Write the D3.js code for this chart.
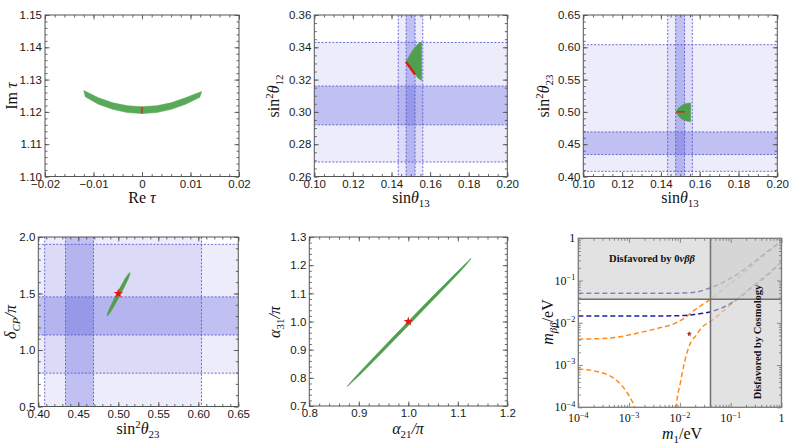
<!DOCTYPE html>
<html>
<head>
<meta charset="utf-8">
<script src="https://cdn.jsdelivr.net/npm/d3@7"></script>
<style>
  body { margin: 0; background: #fff; }
</style>
</head>
<body>
<script>
// ---- data ----

// panel 1 : Re tau / Im tau
const reTauTicks = [-0.02, -0.01, 0, 0.01, 0.02];
const reTauLabels = ["\u22120.02", "\u22120.01", "0", "0.01", "0.02"];
const imTauTicks = [1.10, 1.11, 1.12, 1.13, 1.14, 1.15];
const imTauLabels = ["1.10", "1.11", "1.12", "1.13", "1.14", "1.15"];
const tauUpperEdge = [[-0.0120, 1.1266], [-0.009, 1.1244], [-0.006, 1.1228], [-0.003, 1.1219], [0, 1.1216],
                      [0.003, 1.1219], [0.006, 1.1228], [0.009, 1.1244], [0.0123, 1.1263]];
const tauLowerEdge = [[0.0119, 1.1245], [0.009, 1.1224], [0.006, 1.1208], [0.003, 1.1198], [0, 1.1195],
                      [-0.003, 1.1198], [-0.006, 1.1208], [-0.009, 1.1224], [-0.0117, 1.1247]];
const tauBest = [[0, 1.1194], [0, 1.1216]];

// mixing angle ticks
const s13Ticks = [0.10, 0.12, 0.14, 0.16, 0.18, 0.20];
const s13Labels = ["0.10", "0.12", "0.14", "0.16", "0.18", "0.20"];
const s12Ticks = [0.26, 0.28, 0.30, 0.32, 0.34, 0.36];
const s12Labels = ["0.26", "0.28", "0.30", "0.32", "0.34", "0.36"];
const s23Ticks = [0.40, 0.45, 0.50, 0.55, 0.60, 0.65];
const s23Labels = ["0.40", "0.45", "0.50", "0.55", "0.60", "0.65"];
const dcpTicks = [0.5, 1.0, 1.5, 2.0];
const dcpLabels = ["0.5", "1.0", "1.5", "2.0"];
const a21Ticks = [0.8, 0.9, 1.0, 1.1, 1.2];
const a21Labels = ["0.8", "0.9", "1.0", "1.1", "1.2"];
const a31Ticks = [0.7, 0.8, 0.9, 1.0, 1.1, 1.2, 1.3];
const a31Labels = ["0.7", "0.8", "0.9", "1.0", "1.1", "1.2", "1.3"];

// 1 sigma / 3 sigma ranges
const s13Band1 = [0.1476, 0.1522], s13Band3 = [0.1435, 0.1562];
const s12Band1 = [0.292, 0.316],   s12Band3 = [0.269, 0.343];
const s23Band1 = [0.434, 0.469],   s23Band3 = [0.408, 0.604];
const dcpBand1 = [1.133, 1.470],   dcpBand3 = [0.795, 1.935];

// allowed regions
const s12Region = [[0.1475, 0.3310], [0.1495, 0.3352], [0.1515, 0.3390], [0.1535, 0.3418], [0.1556, 0.3434],
                   [0.1556, 0.3195], [0.1540, 0.3207], [0.1522, 0.3232], [0.1500, 0.3270]];
const s12Best = [[0.1475, 0.3310], [0.1522, 0.3232]];
const s23Region = [[0.1478, 0.4997], [0.1490, 0.5055], [0.1505, 0.5095], [0.1520, 0.5120], [0.1537, 0.5133],
                   [0.1553, 0.5136], [0.1553, 0.4852], [0.1537, 0.4856], [0.1520, 0.4870], [0.1505, 0.4895],
                   [0.1490, 0.4937]];
const s23Best = [[0.1478, 0.5], [0.1524, 0.5]];
const dcpRegion = [[0.4860, 1.300], [0.4874, 1.340], [0.4912, 1.400], [0.4983, 1.500], [0.5060, 1.600],
                   [0.5103, 1.650], [0.5146, 1.686], [0.5135, 1.650], [0.5104, 1.600], [0.5033, 1.500],
                   [0.4956, 1.400], [0.4906, 1.340]];
const dcpBest = [0.5, 1.5];
const alphaRegion = [[0.8768, 0.770], [0.8914, 0.800], [0.9449, 0.900], [0.9997, 1.000], [1.0553, 1.100],
                     [1.1125, 1.200], [1.1267, 1.2233], [1.1161, 1.200], [1.0629, 1.100], [1.0081, 1.000],
                     [0.9525, 0.900], [0.8958, 0.800]];
const alphaBest = [1.0, 1.0];

// panel 6 : effective Majorana mass
const logTicks = [1e-4, 1e-3, 1e-2, 1e-1, 1];
const logLabels = [["10", "\u22124"], ["10", "\u22123"], ["10", "\u22122"], ["10", "\u22121"], ["1", ""]];
const noUpper = [[1e-4, 0.0041], [3.9e-4, 0.0043], [8.2e-4, 0.0049], [1.75e-3, 0.0060], [3.7e-3, 0.0074],
                 [7.9e-3, 0.0097], [0.0124, 0.0130], [0.0193, 0.0200], [0.038, 0.0347], [0.075, 0.0656],
                 [0.16, 0.135], [0.39, 0.336], [1.0, 0.85]];
const noLowerLeft = [[1e-4, 8.05e-4], [2.12e-4, 7.2e-4], [3.87e-4, 5.8e-4], [6.08e-4, 4.04e-4],
                     [8.87e-4, 2.34e-4], [1.11e-3, 1.49e-4], [1.29e-3, 9.5e-5], [1.36e-3, 6e-5]];
const noLowerRight = [[8.3e-3, 6e-5], [8.5e-3, 1.0e-4], [0.0103, 4.0e-4], [0.0124, 1.2e-3], [0.0155, 3.0e-3],
                      [0.021, 5.1e-3], [0.026, 7.4e-3], [0.041, 0.011], [0.128, 0.0347], [1.0, 0.28]];
const ioUpper = [[1e-4, 0.0499], [1e-3, 0.0499], [7.9e-3, 0.0500], [0.0193, 0.0527], [0.038, 0.066],
                 [0.075, 0.094], [0.16, 0.162], [0.39, 0.367], [1.0, 0.87]];
const ioLower = [[1e-4, 0.0145], [1e-3, 0.0145], [7.9e-3, 0.0146], [0.0193, 0.0158], [0.041, 0.0183],
                 [0.075, 0.024], [0.128, 0.0347], [0.25, 0.066], [0.53, 0.135], [1.0, 0.28]];
const mbbLimit = 0.036;
const m1Limit = 0.040;
const mbbPoint = [0.0153, 0.0054];

// ---- drawing ----
const width = 789, height = 446;
const serif = "'Liberation Serif','Times New Roman',serif";
const sans = "'Liberation Sans',Arial,sans-serif";
const green = "#4f9f4f";
const bandFill = "#5050dc";
const bandLine = "#5c5cd0";

const svg = d3.select("body").append("svg")
  .attr("width", width).attr("height", height);

function minorTicks(domain, step) {
  const n = Math.round((domain[1] - domain[0]) / step);
  return d3.range(n + 1).map(i => +(domain[0] + i * step).toFixed(6));
}

// text with sub/superscripts, parts = [[text, "flags"], ...], flags: it bold sup sub
function richText(parent, x, y, parts, size, anchor, family) {
  const t = parent.append("text")
    .attr("x", x).attr("y", y)
    .attr("font-family", family || serif)
    .attr("font-size", size)
    .attr("text-anchor", anchor || "middle")
    .attr("fill", "#111");
  let shift = 0;
  parts.forEach(([s, st]) => {
    const f = st.split(" ");
    const sp = t.append("tspan").text(s);
    let target = 0;
    if (f.includes("sup")) { target = -0.4 * size; sp.attr("font-size", size * 0.68); }
    if (f.includes("sub")) { target = 0.28 * size; sp.attr("font-size", size * 0.68); }
    if (f.includes("it")) sp.attr("font-style", "italic");
    if (f.includes("bold")) sp.attr("font-weight", "bold");
    sp.attr("dy", target - shift);
    shift = target;
  });
  return t;
}

function yLabel(x, y, parts) {
  const g = svg.append("g").attr("transform", `translate(${x},${y}) rotate(-90)`);
  richText(g, 0, 0, parts, 16);
}

function makePanel(box, xs, ys, id) {
  const x = xs.range([box.l, box.r]);
  const y = ys.range([box.b, box.t]);
  svg.append("clipPath").attr("id", id).append("rect")
    .attr("x", box.l).attr("y", box.t).attr("width", box.r - box.l).attr("height", box.b - box.t);
  const plot = svg.append("g").attr("clip-path", `url(#${id})`);
  return { box, x, y, plot };
}

function frame(p, xMajor, xMinor, xLabels, yMajor, yMinor, yLabels, color, wid, longT, shortT) {
  const { box, x, y } = p;
  const g = svg.append("g");
  const add = (axis, tr) => {
    const a = g.append("g").attr("transform", tr).call(axis);
    a.select(".domain").remove();
    a.selectAll("line").attr("stroke", color).attr("stroke-width", 0.9);
    a.attr("font-family", sans).attr("font-size", 11.5);
    a.selectAll("text").attr("fill", "#1a1a1a");
    return a;
  };
  const none = () => "";
  const lab = labels => labels ? (d, i) => labels[i] : none;
  add(d3.axisBottom(x).tickValues(xMinor).tickSize(-shortT).tickFormat(none), `translate(0,${box.b})`);
  add(d3.axisTop(x).tickValues(xMinor).tickSize(-shortT).tickFormat(none), `translate(0,${box.t})`);
  add(d3.axisLeft(y).tickValues(yMinor).tickSize(-shortT).tickFormat(none), `translate(${box.l},0)`);
  add(d3.axisRight(y).tickValues(yMinor).tickSize(-shortT).tickFormat(none), `translate(${box.r},0)`);
  add(d3.axisBottom(x).tickValues(xMajor).tickSize(-longT).tickPadding(3).tickFormat(lab(xLabels)), `translate(0,${box.b})`);
  add(d3.axisTop(x).tickValues(xMajor).tickSize(-longT).tickFormat(none), `translate(0,${box.t})`);
  add(d3.axisLeft(y).tickValues(yMajor).tickSize(-longT).tickPadding(3).tickFormat(lab(yLabels)), `translate(${box.l},0)`);
  add(d3.axisRight(y).tickValues(yMajor).tickSize(-longT).tickFormat(none), `translate(${box.r},0)`);
  g.append("rect")
    .attr("x", box.l).attr("y", box.t).attr("width", box.r - box.l).attr("height", box.b - box.t)
    .attr("fill", "none").attr("stroke", color).attr("stroke-width", wid);
}

function bands(p, v1, v3, h1, h3) {
  const { box, x, y, plot } = p;
  const vRect = (b, op) => plot.append("rect")
    .attr("x", x(b[0])).attr("width", x(b[1]) - x(b[0]))
    .attr("y", box.t).attr("height", box.b - box.t)
    .attr("fill", bandFill).attr("fill-opacity", op);
  const hRect = (b, op) => plot.append("rect")
    .attr("y", y(b[1])).attr("height", y(b[0]) - y(b[1]))
    .attr("x", box.l).attr("width", box.r - box.l)
    .attr("fill", bandFill).attr("fill-opacity", op);
  vRect(v3, 0.11); hRect(h3, 0.11);
  vRect(v1, 0.28); hRect(h1, 0.28);
  v3.concat(v1).forEach(v => plot.append("line")
    .attr("x1", x(v)).attr("x2", x(v)).attr("y1", box.t).attr("y2", box.b)
    .attr("stroke", bandLine).attr("stroke-width", 0.9).attr("stroke-dasharray", "2,1.6"));
  h3.concat(h1).forEach(v => plot.append("line")
    .attr("y1", y(v)).attr("y2", y(v)).attr("x1", box.l).attr("x2", box.r)
    .attr("stroke", bandLine).attr("stroke-width", 0.9).attr("stroke-dasharray", "2,1.6"));
}

function region(p, pts, curve, color) {
  const c = color || green;
  p.plot.append("path")
    .attr("d", d3.line().x(d => p.x(d[0])).y(d => p.y(d[1])).curve(curve || d3.curveLinearClosed)(pts))
    .attr("fill", c).attr("stroke", c).attr("stroke-width", 0.6);
}

function bestLine(p, pts, w) {
  p.plot.append("path")
    .attr("d", d3.line().x(d => p.x(d[0])).y(d => p.y(d[1]))(pts))
    .attr("fill", "none").attr("stroke", "#e01a10").attr("stroke-width", w);
}

function star(p, pt, size) {
  p.plot.append("path")
    .attr("d", d3.symbol().type(d3.symbolStar).size(size)())
    .attr("transform", `translate(${p.x(pt[0])},${p.y(pt[1])})`)
    .attr("fill", "#ee1111");
}

const frameColor = "#555";

// panel 1
const p1 = makePanel({ l: 45, r: 239, t: 15, b: 176.5 },
  d3.scaleLinear().domain([-0.02, 0.02]), d3.scaleLinear().domain([1.10, 1.15]), "c1");
region(p1, tauUpperEdge.concat(tauLowerEdge), d3.curveLinearClosed, "#58aa58");
bestLine(p1, tauBest, 1.2);
frame(p1, reTauTicks, minorTicks([-0.02, 0.02], 0.002), reTauLabels,
  imTauTicks, minorTicks([1.10, 1.15], 0.002), imTauLabels, frameColor, 1, 4.5, 2.5);
richText(svg, 142, 203, [["Re ", ""], ["\u03c4", "it"]], 16);
yLabel(17, 96, [["Im ", ""], ["\u03c4", "it"]]);

// panel 2
const p2 = makePanel({ l: 314.3, r: 507.3, t: 15, b: 176.5 },
  d3.scaleLinear().domain([0.10, 0.20]), d3.scaleLinear().domain([0.26, 0.36]), "c2");
bands(p2, s13Band1, s13Band3, s12Band1, s12Band3);
region(p2, s12Region);
bestLine(p2, s12Best, 2.4);
frame(p2, s13Ticks, minorTicks([0.10, 0.20], 0.005), s13Labels,
  s12Ticks, minorTicks([0.26, 0.36], 0.005), s12Labels, frameColor, 1, 4.5, 2.5);
richText(svg, 411, 203, [["sin", ""], ["\u03b8", "it"], ["13", "sub"]], 16);
yLabel(279, 96, [["sin", ""], ["2", "sup"], ["\u03b8", "it"], ["12", "sub"]]);

// panel 3
const p3 = makePanel({ l: 583.3, r: 777.3, t: 15, b: 176.5 },
  d3.scaleLinear().domain([0.10, 0.20]), d3.scaleLinear().domain([0.40, 0.65]), "c3");
bands(p3, s13Band1, s13Band3, s23Band1, s23Band3);
region(p3, s23Region);
bestLine(p3, s23Best, 1.2);
frame(p3, s13Ticks, minorTicks([0.10, 0.20], 0.005), s13Labels,
  s23Ticks, minorTicks([0.40, 0.65], 0.01), s23Labels, frameColor, 1, 4.5, 2.5);
richText(svg, 680, 203, [["sin", ""], ["\u03b8", "it"], ["13", "sub"]], 16);
yLabel(549, 96, [["sin", ""], ["2", "sup"], ["\u03b8", "it"], ["23", "sub"]]);

// panel 4
const p4 = makePanel({ l: 38.3, r: 238.3, t: 237, b: 406.5 },
  d3.scaleLinear().domain([0.40, 0.65]), d3.scaleLinear().domain([0.5, 2.0]), "c4");
bands(p4, s23Band1, s23Band3, dcpBand1, dcpBand3);
region(p4, dcpRegion, d3.curveCatmullRomClosed);
star(p4, dcpBest, 28);
frame(p4, s23Ticks, minorTicks([0.40, 0.65], 0.01), s23Labels,
  dcpTicks, minorTicks([0.5, 2.0], 0.1), dcpLabels, frameColor, 1, 4.5, 2.5);
richText(svg, 138, 434, [["sin", ""], ["2", "sup"], ["\u03b8", "it"], ["23", "sub"]], 16);
yLabel(16, 322, [["\u03b4", "it"], ["CP", "it sub"], ["/\u03c0", "it"]]);

// panel 5
const p5 = makePanel({ l: 309.3, r: 507.3, t: 237, b: 406 },
  d3.scaleLinear().domain([0.8, 1.2]), d3.scaleLinear().domain([0.7, 1.3]), "c5");
region(p5, alphaRegion, d3.curveCatmullRomClosed);
star(p5, alphaBest, 28);
frame(p5, a21Ticks, minorTicks([0.8, 1.2], 0.02), a21Labels,
  a31Ticks, minorTicks([0.7, 1.3], 0.02), a31Labels, frameColor, 1, 4.5, 2.5);
richText(svg, 408, 434, [["\u03b1", "it"], ["21", "sub"], ["/\u03c0", "it"]], 16);
yLabel(280, 322, [["\u03b1", "it"], ["31", "sub"], ["/\u03c0", "it"]]);

// panel 6
const p6 = makePanel({ l: 578.3, r: 781.5, t: 238.3, b: 407.3 },
  d3.scaleLog().domain([1e-4, 1]), d3.scaleLog().domain([1e-4, 1]), "c6");
const logLine = d3.line().x(d => p6.x(d[0])).y(d => p6.y(d[1])).curve(d3.curveMonotoneX);
[[noUpper, "#ff8c1a"], [noLowerLeft, "#ff8c1a"], [noLowerRight, "#ff8c1a"],
 [ioUpper, "#1a1aa8"], [ioLower, "#1a1aa8"]].forEach(([pts, c]) => {
  p6.plot.append("path").attr("d", logLine(pts))
    .attr("fill", "none").attr("stroke", c).attr("stroke-width", 1.5).attr("stroke-dasharray", "5,3");
});
p6.plot.append("ellipse").attr("cx", p6.x(mbbPoint[0])).attr("cy", p6.y(mbbPoint[1]) - 0.8)
  .attr("rx", 1.4).attr("ry", 1.2).attr("fill", green);
star(p6, mbbPoint, 9);
// disfavoured regions, semi-transparent over the curves
p6.plot.append("rect").attr("x", p6.box.l).attr("width", p6.box.r - p6.box.l)
  .attr("y", p6.box.t).attr("height", p6.y(mbbLimit) - p6.box.t)
  .attr("fill", "#cfcfcf").attr("fill-opacity", 0.6);
p6.plot.append("rect").attr("x", p6.x(m1Limit)).attr("width", p6.box.r - p6.x(m1Limit))
  .attr("y", p6.box.t).attr("height", p6.box.b - p6.box.t)
  .attr("fill", "#cfcfcf").attr("fill-opacity", 0.6);
p6.plot.append("line").attr("x1", p6.box.l).attr("x2", p6.box.r)
  .attr("y1", p6.y(mbbLimit)).attr("y2", p6.y(mbbLimit)).attr("stroke", "#6f6f6f").attr("stroke-width", 1.5);
p6.plot.append("line").attr("y1", p6.box.t).attr("y2", p6.box.b)
  .attr("x1", p6.x(m1Limit)).attr("x2", p6.x(m1Limit)).attr("stroke", "#6f6f6f").attr("stroke-width", 1.5);

const logMinor = [];
logTicks.slice(0, -1).forEach(d => d3.range(2, 10).forEach(k => logMinor.push(d * k)));
frame(p6, logTicks, logMinor, null, logTicks, logMinor, null, "#7a7a7a", 1.3, 4.5, 2.5);
logTicks.forEach((d, i) => {
  const parts = [[logLabels[i][0], ""]];
  if (logLabels[i][1]) parts.push([logLabels[i][1], "sup"]);
  richText(svg, p6.x(d), p6.box.b + 15, parts, 12);
  richText(svg, p6.box.l - 3, p6.y(d) + 4, parts, 12, "end");
});
richText(svg, 652, 262, [["Disfavored by 0", "bold"], ["\u03bd\u03b2\u03b2", "bold it"]], 10.5);
svg.append("g").attr("transform", "translate(761,342) rotate(-90)")
  .call(g => richText(g, 0, 0, [["Disfavored by Cosmology", "bold"]], 10.5));
richText(svg, 682, 439, [["m", "it"], ["1", "sub"], ["/eV", ""]], 16);
yLabel(553, 322, [["m", "it"], ["\u03b2\u03b2", "it sub"], ["/eV", ""]]);
</script>
</body>
</html>
